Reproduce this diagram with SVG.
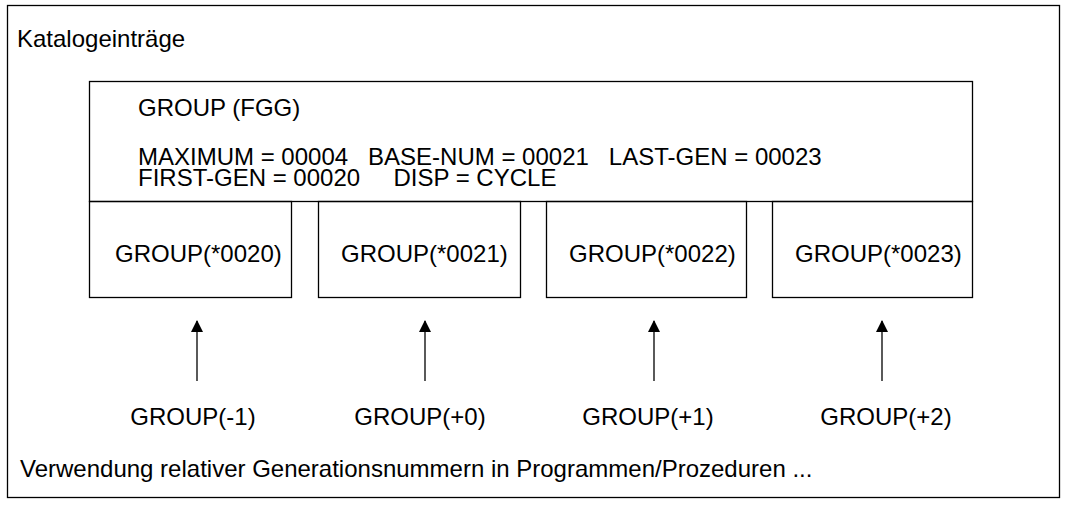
<svg xmlns="http://www.w3.org/2000/svg" width="1068" height="508" viewBox="0 0 1068 508">
  <style>
    .frame { fill: #ffffff; stroke: #000000; stroke-width: 1.3; }
    .box { fill: none; stroke: #000000; stroke-width: 1.3; }
    .txt { font-family: "Liberation Sans", Arial, sans-serif; font-size: 24px; fill: #000000; }
    .mid { text-anchor: middle; }
    .conn { stroke: #000000; stroke-width: 1.3; fill: none; marker-end: url(#head); }
  </style>
  <defs>
    <!-- filled triangular arrowhead, tip at the line end -->
    <marker id="head" markerWidth="12" markerHeight="12" viewBox="0 0 12 12" refX="11" refY="6" orient="auto" markerUnits="userSpaceOnUse">
      <path d="M0,0 L12,6 L0,12 Z" fill="#000000"/>
    </marker>
  </defs>

  <!-- outer frame and captions -->
  <rect class="frame" x="7.5" y="5.5" width="1052" height="492"/>
  <text class="txt" x="17" y="47">Katalogeinträge</text>
  <text class="txt" x="20" y="477">Verwendung relativer Generationsnummern in Programmen/Prozeduren ...</text>

  <!-- group entry (FGG) -->
  <g id="fgg">
    <rect class="box" x="89.5" y="81.5" width="883" height="120"/>
    <text class="txt" x="138" y="116">GROUP (FGG)</text>
    <text class="txt" x="138" y="165" xml:space="preserve">MAXIMUM = 00004   BASE-NUM = 00021   LAST-GEN = 00023</text>
    <text class="txt" x="138" y="186" xml:space="preserve">FIRST-GEN = 00020     DISP = CYCLE</text>
  </g>

  <!-- generations -->
  <g id="gen0020">
    <rect class="box" x="89.5" y="201.5" width="202" height="96"/>
    <text class="txt" x="115" y="262">GROUP(*0020)</text>
  </g>
  <g id="gen0021">
    <rect class="box" x="318.5" y="201.5" width="202" height="96"/>
    <text class="txt" x="341" y="262">GROUP(*0021)</text>
  </g>
  <g id="gen0022">
    <rect class="box" x="546.5" y="201.5" width="200" height="96"/>
    <text class="txt" x="569" y="262">GROUP(*0022)</text>
  </g>
  <g id="gen0023">
    <rect class="box" x="772.5" y="201.5" width="200" height="96"/>
    <text class="txt" x="795" y="262">GROUP(*0023)</text>
  </g>

  <!-- relative generation references -->
  <g id="rel-1"><text class="txt mid" x="193" y="425">GROUP(-1)</text></g>
  <g id="rel+0"><text class="txt mid" x="420" y="425">GROUP(+0)</text></g>
  <g id="rel+1"><text class="txt mid" x="648" y="425">GROUP(+1)</text></g>
  <g id="rel+2"><text class="txt mid" x="886" y="425">GROUP(+2)</text></g>

  <g id="connectors">
    <line class="conn" x1="197" y1="381" x2="197" y2="321"/>
    <line class="conn" x1="425" y1="381" x2="425" y2="321"/>
    <line class="conn" x1="654" y1="381" x2="654" y2="321"/>
    <line class="conn" x1="882" y1="381" x2="882" y2="321"/>
  </g>
</svg>
